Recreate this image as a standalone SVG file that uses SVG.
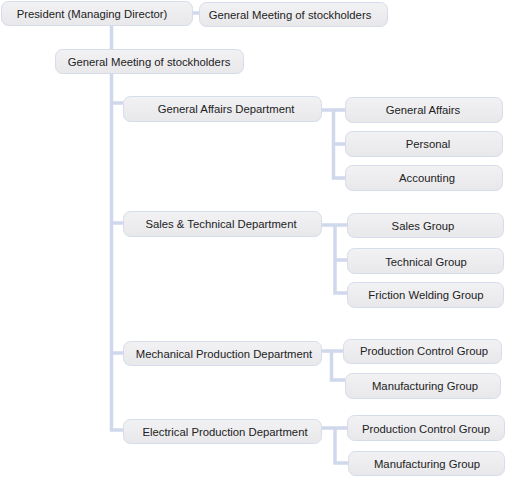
<svg xmlns="http://www.w3.org/2000/svg" width="508" height="477" viewBox="0 0 508 477">
<defs>
<linearGradient id="g" x1="0" y1="0" x2="0" y2="1">
<stop offset="0" stop-color="#f2f2f4"/>
<stop offset="1" stop-color="#e8e8eb"/>
</linearGradient>
</defs>
<style>
.b{fill:url(#g);stroke:#d6dcea;stroke-width:1}
.t{font-family:"Liberation Sans",Arial,sans-serif;font-size:11.3px;fill:#222222;text-anchor:middle}
.c{fill:none;stroke:#d0d8ec;stroke-width:3.5}
</style>
<rect width="508" height="477" fill="#ffffff"/>
<g id="connectors">
<path class="c" d="M193 13H199"/>
<path class="c" d="M111.5 25V49"/>
<path class="c" d="M111.5 73V430H123M111.5 103H123M111.5 223H123M111.5 353H123"/>
<path class="c" d="M322 110H345M333.5 110V178H345M333.5 144H345"/>
<path class="c" d="M322 225H347M335 225V293H347M335 260H347"/>
<path class="c" d="M322 351H343M331.5 351V380H345"/>
<path class="c" d="M322 428H347M335 428V463H348"/>
</g>
<g id="president"><rect class="b" x="1.5" y="1.5" width="191" height="24" rx="7"/><text class="t" x="92" y="17.5">President (Managing Director)</text></g>
<g id="gm-top"><rect class="b" x="199.5" y="2.5" width="188" height="24" rx="7"/><text class="t" x="290" y="18.5">General Meeting of stockholders</text></g>
<g id="gm"><rect class="b" x="55.5" y="49.5" width="188" height="24" rx="7"/><text class="t" x="149" y="66">General Meeting of stockholders</text></g>
<g id="gad"><rect class="b" x="123.5" y="96.5" width="198" height="25" rx="7"/><text class="t" x="226" y="112.5">General Affairs Department</text></g>
<g id="ga"><rect class="b" x="345.5" y="97.5" width="157" height="25" rx="7"/><text class="t" x="423" y="114">General Affairs</text></g>
<g id="personal"><rect class="b" x="345.5" y="131.5" width="157" height="25" rx="7"/><text class="t" x="428" y="148">Personal</text></g>
<g id="accounting"><rect class="b" x="345.5" y="165.5" width="157" height="25" rx="7"/><text class="t" x="427" y="182">Accounting</text></g>
<g id="std"><rect class="b" x="123.5" y="211.5" width="198" height="25" rx="7"/><text class="t" x="221" y="228">Sales &amp; Technical Department</text></g>
<g id="sales"><rect class="b" x="347.5" y="213.5" width="156" height="24" rx="7"/><text class="t" x="423" y="230">Sales Group</text></g>
<g id="technical"><rect class="b" x="347.5" y="248.5" width="156" height="25" rx="7"/><text class="t" x="426" y="266">Technical Group</text></g>
<g id="friction"><rect class="b" x="347.5" y="282.5" width="156" height="25" rx="7"/><text class="t" x="426" y="299">Friction Welding Group</text></g>
<g id="mpd"><rect class="b" x="123.5" y="341.5" width="198" height="24" rx="7"/><text class="t" x="224" y="358">Mechanical Production Department</text></g>
<g id="pcg1"><rect class="b" x="343.5" y="339.5" width="158" height="24" rx="7"/><text class="t" x="424" y="355">Production Control Group</text></g>
<g id="mfg1"><rect class="b" x="345.5" y="373.5" width="155" height="25" rx="7"/><text class="t" x="425" y="390">Manufacturing Group</text></g>
<g id="epd"><rect class="b" x="123.5" y="419.5" width="198" height="24" rx="7"/><text class="t" x="225" y="436">Electrical Production Department</text></g>
<g id="pcg2"><rect class="b" x="347.5" y="415.5" width="157" height="25" rx="7"/><text class="t" x="426" y="433">Production Control Group</text></g>
<g id="mfg2"><rect class="b" x="348.5" y="451.5" width="156" height="24" rx="7"/><text class="t" x="427" y="468">Manufacturing Group</text></g>
</svg>
